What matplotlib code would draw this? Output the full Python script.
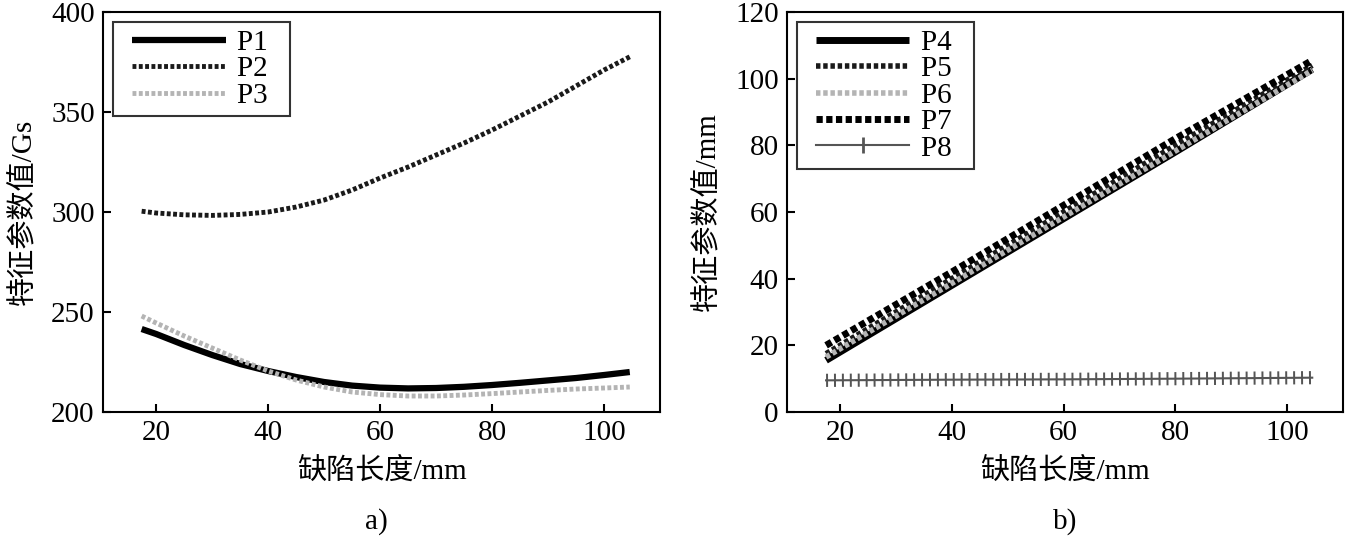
import matplotlib
matplotlib.use("Agg")
import matplotlib.pyplot as plt
from matplotlib.lines import Line2D
from matplotlib.legend_handler import HandlerLine2D

plt.rcParams['font.family'] = ['Liberation Serif', 'Noto Sans CJK SC']
plt.rcParams['axes.unicode_minus'] = False

# ---- data: panel a) ----
len_a = [17.4, 20, 25, 30, 35, 40, 45, 50, 55, 60, 65, 70, 75, 80, 85, 90,
         95, 100, 104.6]
p1 = [241.5, 239, 233.5, 228.5, 224, 220.5, 217.5, 215, 213.2, 212.2, 211.8,
      212, 212.6, 213.5, 214.6, 215.8, 217, 218.5, 220]
p2 = [300.4, 299.5, 298.6, 298.3, 298.8, 300, 302.5, 306, 311, 317, 322.5,
      328.5, 334.5, 341, 348, 355, 363, 371, 377.6]
p3 = [248, 244.5, 238, 232, 226, 220.5, 216, 212.5, 210, 208.7, 208, 208,
      208.5, 209.2, 210, 210.8, 211.5, 212, 212.5]

# ---- data: panel b) ----
len_b = [17.5, 40, 60, 80, 104.5]
p4 = [15.5, 38, 58, 78, 102.8]
p5 = [17.5, 40, 60, 80, 104]
p6 = [16.5, 38.6, 58.5, 78.3, 102.5]
p7 = [20, 42, 62, 82, 105.5]
p8 = [9.5, 9.7, 9.8, 10, 10.3]

xticks = [20, 40, 60, 80, 100]
xlabel = '缺陷长度/mm'
ylabel_a = '特征参数值/Gs'
ylabel_b = '特征参数值/mm'

FS = 21

fig = plt.figure(figsize=(13.45, 5.39), dpi=100)
ax1 = fig.add_axes([0.0766, 0.2356, 0.4141, 0.7421])
ax2 = fig.add_axes([0.5851, 0.2356, 0.4134, 0.7421])

dark = '#1a1a1a'
light = '#b4b4b4'

# panel a
ax1.plot(len_a, p1, color='black', lw=4.5, solid_capstyle='butt', label='P1')
ax1.plot(len_a, p2, color=dark, lw=3.5, dashes=(0.8, 0.5), label='P2')
ax1.plot(len_a, p3, color=light, lw=3.5, dashes=(0.8, 0.5), label='P3')
ax1.set_ylim(200, 400)
ax1.set_yticks([200, 250, 300, 350, 400])
ax1.set_ylabel(ylabel_a, fontsize=FS, labelpad=10)

# panel b
ax2.plot(len_b, p4, color='black', lw=5, solid_capstyle='butt', label='P4')
ax2.plot(len_b, p5, color=dark, lw=4, dashes=(0.8, 0.5), label='P5')
ax2.plot(len_b, p6, color=light, lw=4, dashes=(0.8, 0.5), label='P6')
ax2.plot(len_b, p7, color='black', lw=5, dashes=(0.9, 0.5), label='P7')
ax2.plot(len_b, p8, color='#555555', lw=1.5)
ax2.plot(len_b, p8, color='#555555', lw=9.5, dashes=(0.15, 0.45))
ax2.set_ylim(0, 120)
ax2.set_yticks([0, 20, 40, 60, 80, 100, 120])
ax2.set_ylabel(ylabel_b, fontsize=FS, labelpad=10)

for ax in (ax1, ax2):
    ax.set_xlim(10.5, 110)
    ax.set_xticks(xticks)
    ax.set_xlabel(xlabel, fontsize=FS, labelpad=8)
    ax.tick_params(direction='in', length=6, width=1.5, labelsize=FS,
                   top=False, right=False, pad=6)
    for s in ax.spines.values():
        s.set_linewidth(1.5)

# pad the handles on the left, trailing spaces pad the right side
hmap = {Line2D: HandlerLine2D(xpad=0.38)}
leg_kw = dict(loc='upper left', fontsize=FS, frameon=True, fancybox=False,
              edgecolor='black', handlelength=3.6, handletextpad=0.4,
              labelspacing=0.0, borderpad=0.25, borderaxespad=0.35,
              handler_map=hmap)

h1, l1 = ax1.get_legend_handles_labels()
leg1 = ax1.legend(h1, [s + '  ' for s in l1], **leg_kw)
h2, l2 = ax2.get_legend_handles_labels()
h2.append(Line2D([], [], color='#555555', lw=1.5, marker='|', markersize=12,
                 markeredgewidth=2))
l2.append('P8')
leg2 = ax2.legend(h2, [s + '  ' for s in l2], **leg_kw)
for lg in (leg1, leg2):
    lg.get_frame().set_linewidth(1.5)

fig.text(0.2796, 0.032, 'a)', fontsize=FS, ha='center', va='center')
fig.text(0.7918, 0.032, 'b)', fontsize=FS, ha='center', va='center')

fig.savefig('out.png', dpi=100)
